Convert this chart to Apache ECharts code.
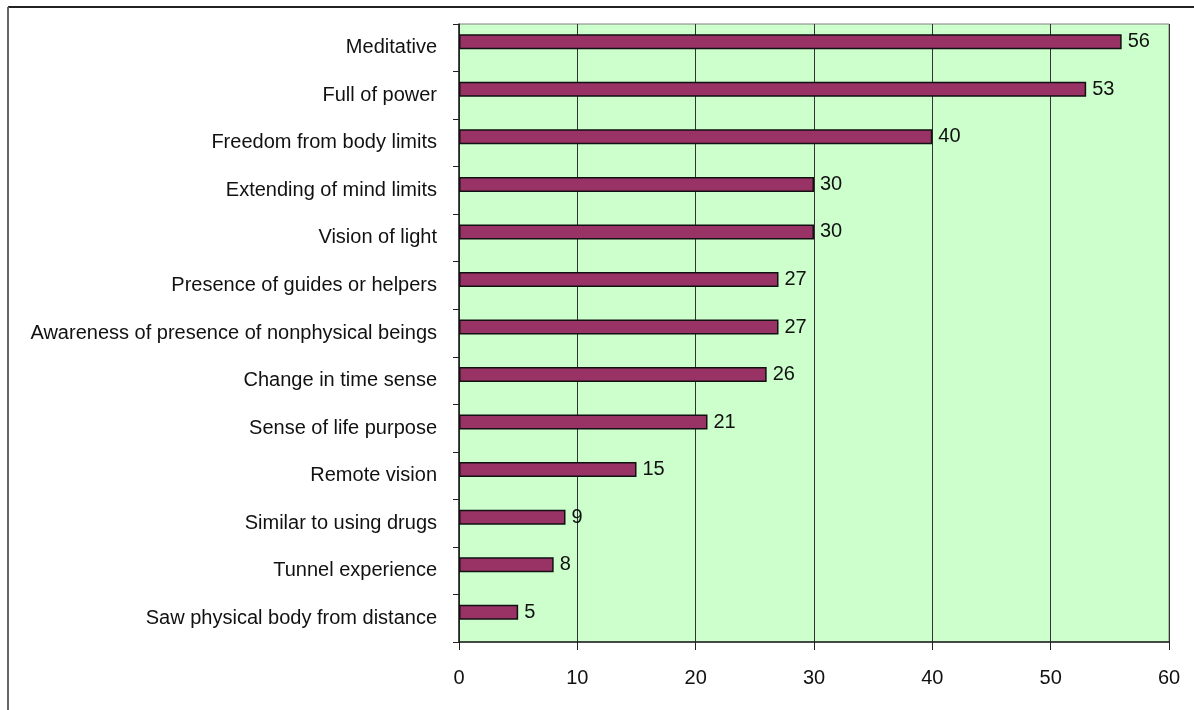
<!DOCTYPE html>
<html>
<head>
<meta charset="utf-8">
<script src="https://cdn.jsdelivr.net/npm/echarts@6/dist/echarts.min.js"></script>
<style>html,body{margin:0;padding:0;background:#fff}#c{width:1194px;height:710px}</style>
</head>
<body>
<div id="c"></div>
<script>
const categories = [
  "Meditative",
  "Full of power",
  "Freedom from body limits",
  "Extending of mind limits",
  "Vision of light",
  "Presence of guides or helpers",
  "Awareness of presence of nonphysical beings",
  "Change in time sense",
  "Sense of life purpose",
  "Remote vision",
  "Similar to using drugs",
  "Tunnel experience",
  "Saw physical body from distance"
];
const values = [56, 53, 40, 30, 30, 27, 27, 26, 21, 15, 9, 8, 5];
const xTicks = [0, 10, 20, 30, 40, 50, 60];

const FONT = '"Liberation Sans", Arial, sans-serif';
const chart = echarts.init(document.getElementById('c'));
chart.setOption({
  animation: false,
  backgroundColor: '#ffffff',
  graphic: [
    { type: 'line', shape: { x1: 8, y1: 7, x2: 1194, y2: 7 }, style: { stroke: '#222', lineWidth: 2 } },
    { type: 'line', shape: { x1: 8, y1: 7, x2: 8, y2: 710 }, style: { stroke: '#666', lineWidth: 2 } }
  ],
  grid: {
    left: 459, right: 25, top: 24, bottom: 68,
    containLabel: false, outerBoundsMode: 'none',
    show: true, backgroundColor: '#ccffcc', borderColor: '#808080', borderWidth: 1
  },
  xAxis: {
    type: 'value', min: xTicks[0], max: xTicks[xTicks.length - 1], interval: 10,
    axisLine: { show: true, lineStyle: { color: '#222', width: 1.5 } },
    axisTick: { show: true, length: 8, lineStyle: { color: '#222' } },
    axisLabel: { color: '#111', fontFamily: FONT, fontSize: 20, margin: 26 },
    splitLine: { show: true, lineStyle: { color: '#333', width: 1 } }
  },
  yAxis: {
    type: 'category', data: categories, inverse: true,
    axisLine: { show: true, lineStyle: { color: '#222', width: 1.5 } },
    axisTick: { show: true, length: 6, lineStyle: { color: '#222' } },
    axisLabel: { color: '#111', fontFamily: FONT, fontSize: 20, margin: 22 },
    splitLine: { show: false }
  },
  series: [{
    type: 'bar', data: values, barWidth: 15, barGap: '-20%',
    itemStyle: { color: '#993366', borderColor: '#111', borderWidth: 1.5 },
    label: { show: true, position: 'right', distance: 6, color: '#111', fontFamily: FONT, fontSize: 20 }
  }, {
    type: 'bar', data: values, barWidth: 15, barGap: '-20%', silent: true,
    itemStyle: { color: 'rgba(0,0,0,0)', borderWidth: 0 },
    label: { show: false }
  }]
});
</script>
</body>
</html>
